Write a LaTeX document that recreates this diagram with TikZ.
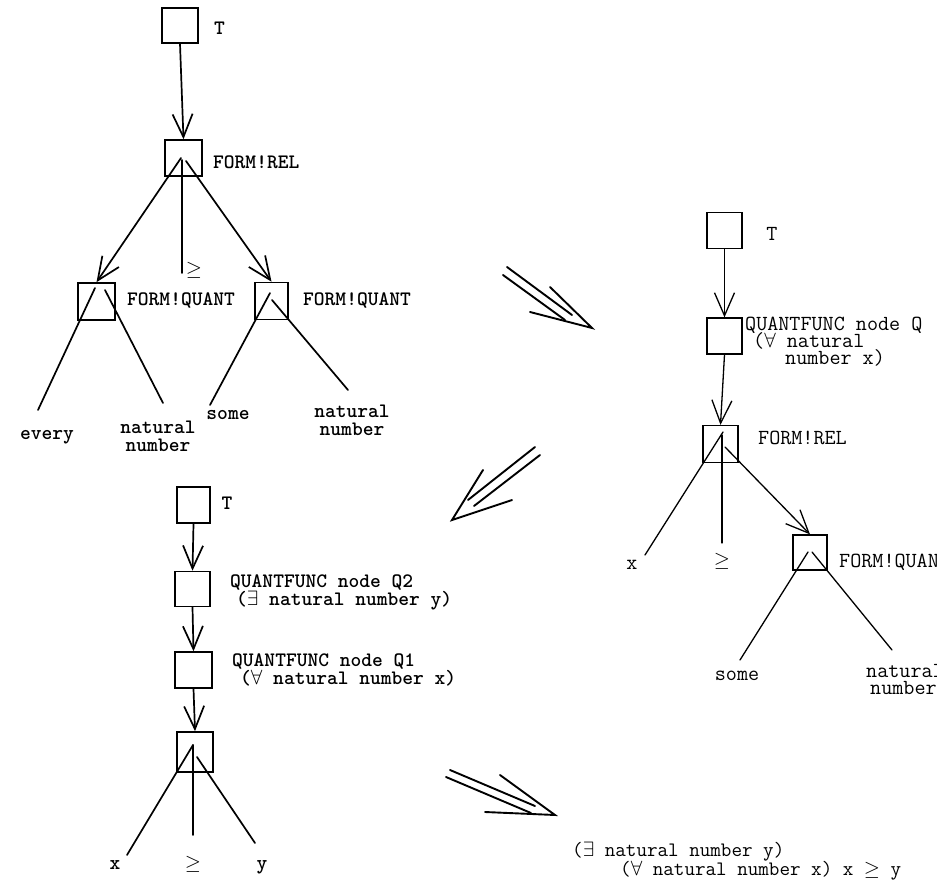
\documentclass[tikz,border=0pt]{standalone}
\usetikzlibrary{arrows.meta}
\begin{document}
\begin{tikzpicture}[x=1pt,y=-1pt,
  box/.style={draw,line width=1.6pt,inner sep=0pt,minimum width=35pt,minimum height=36pt},
  thinbox/.style={box,line width=1.3pt},
  txt/.style={font={\ttfamily\bfseries\fontsize{20.5}{18}\selectfont\lineskiplimit=-40pt},inner sep=0pt,anchor=base west},
  ctxt/.style={txt,anchor=base},
  rtxt/.style={txt,font={\ttfamily\fontsize{21.5}{17}\selectfont\lineskiplimit=-40pt}},
  crtxt/.style={rtxt,anchor=base},
  sym/.style={font=\fontsize{20.5}{20}\selectfont,inner sep=0pt,anchor=center},
  edge/.style={line width=1.7pt,line cap=round},
  thinedge/.style={line width=1.3pt,line cap=round},
  arr/.style={-{Straight Barb[length=23pt,width=20pt]}},
  bigarr/.style={line width=1.9pt,line cap=round}]
\useasboundingbox[fill=white] (0,0) rectangle (937,891);

% ---------------- top-left tree ----------------
\node[box,minimum width=36pt,minimum height=35pt] (t1) at (180,25.5) {};
\node[txt] (t1l) at (214,35) {T};
\node[box,minimum width=37pt] (r1) at (183.5,158) {};
\node[txt] (r1l) at (213,168) {FORM!REL};
\node[box,minimum width=37pt,minimum height=37pt] (ql) at (96.5,301.5) {};
\node[txt] (qll) at (127,305) {FORM!QUANT};
\node[box,minimum width=33pt,minimum height=37pt] (qr) at (271.5,301) {};
\node[txt] (qrl) at (303,305) {FORM!QUANT};
\node[sym] (ge1) at (194,270) {$\geq$};
\node[ctxt] (every) at (47,439) {every};
\node[txt,align=center,anchor=north] (nn1) at (158,420.5) {natural\\number};
\node[ctxt] (some1) at (228,419) {some};
\node[txt,align=center,anchor=north] (nn2) at (352,404.5) {natural\\number};

\coordinate (r1a) at (181,158);
\coordinate (r1b) at (186,161);
\coordinate (r1c) at (182,160);
\coordinate (ge1e) at (182,273);
\coordinate (qla) at (95,288);
\coordinate (qlb) at (105,290);
\coordinate (qlA) at (38,410);
\coordinate (qlB) at (163,403);
\coordinate (qra) at (270,293);
\coordinate (qrb) at (272,300);
\coordinate (qrA) at (210,405);
\coordinate (qrB) at (348,390);

\draw[edge,arr] (t1.south) -- (r1.north);
\draw[edge,arr] (r1a) -- (ql.north);
\draw[edge,arr] (r1b) -- (qr.north);
\draw[edge] (r1c) -- (ge1e);
\draw[edge] (qla) -- (qlA);
\draw[edge] (qlb) -- (qlB);
\draw[edge] (qra) -- (qrA);
\draw[edge] (qrb) -- (qrB);

% ---------------- right tree ----------------
\node[thinbox] (t2) at (724.5,230.5) {};
\node[crtxt] (t2l) at (772,240) {T};
\node[thinbox] (qf) at (724.5,336) {};
\node[rtxt,align=left,anchor=north west] (qfl) at (745,316.5)
  {QUANTFUNC node Q\\\hspace*{8pt}($\forall$ natural\\\hspace*{40pt}number x)};
\node[thinbox,minimum height=37pt] (rr) at (720.5,444) {};
\node[rtxt] (rrl) at (758,444) {FORM!REL};
\node[thinbox,minimum width=34pt,minimum height=35pt] (fq) at (810,552.5) {};
\node[rtxt] (fql) at (839,567) {FORM!QUANT};
\node[crtxt] (x2) at (632,569) {x};
\node[sym] (ge2) at (722,561) {$\geq$};
\node[crtxt] (some2) at (737,680) {some};
\node[rtxt,align=left,anchor=north west] (nn3) at (866,664.5) {natural\\\hspace*{4pt}number};

\coordinate (rra) at (723,432);
\coordinate (rrb) at (725,447);
\coordinate (rrc) at (722,435);
\coordinate (rrA) at (645,555);
\coordinate (rrC) at (722,543);
\coordinate (fqa) at (808,552);
\coordinate (fqb) at (812,552);
\coordinate (fqA) at (740,660);
\coordinate (fqB) at (892,650);

\draw[thinedge,arr] (t2.south) -- (qf.north);
\draw[thinedge,arr] (qf.south) -- (rr.north);
\draw[thinedge] (rra) -- (rrA);
\draw[thinedge] (rrc) -- (rrC);
\draw[thinedge,arr] (rrb) -- (fq.north);
\draw[thinedge] (fqa) -- (fqA);
\draw[thinedge] (fqb) -- (fqB);

% ---------------- lower-left tree ----------------
\node[box,minimum width=33pt] (t3) at (193.5,505) {};
\node[ctxt] (t3l) at (227,509) {T};
\node[box,minimum height=35pt] (q2) at (192.5,589) {};
\node[txt,align=left,anchor=north west] (q2l) at (230,574.5)
  {QUANTFUNC node Q2\\\hspace*{6pt}($\exists$ natural number y)};
\node[box,minimum width=37pt] (q1) at (193.5,670) {};
\node[txt,align=left,anchor=north west] (q1l) at (232,653.5)
  {QUANTFUNC node Q1\\\hspace*{8pt}($\forall$ natural number x)};
\node[box,minimum width=36pt,minimum height=40pt] (rl) at (195,752) {};
\node[ctxt] (x3) at (115,869) {x};
\node[sym] (ge3) at (193,864) {$\geq$};
\node[ctxt] (y3) at (262,869) {y};

\coordinate (rla) at (193,745);
\coordinate (rlb) at (197,757);
\coordinate (rlA) at (127,855);
\coordinate (rlC) at (193,835);
\coordinate (rlB) at (255,843);

\draw[edge,arr] (t3.south) -- (q2.north);
\draw[edge,arr] (q2.south) -- (q1.north);
\draw[edge,arr] (q1.south) -- (rl.north);
\draw[edge] (rla) -- (rlA);
\draw[edge] (rla) -- (rlC);
\draw[edge] (rlb) -- (rlB);

% ---------------- transformation arrows ----------------
\coordinate (a1s1) at (507,267); \coordinate (a1e1) at (572,315);
\coordinate (a1s2) at (503,275); \coordinate (a1e2) at (565,320);
\coordinate (a1h1) at (550,287); \coordinate (a1h2) at (530,312);
\coordinate (a1t) at (592,328);
\draw[bigarr] (a1s1) -- (a1e1);
\draw[bigarr] (a1s2) -- (a1e2);
\draw[bigarr] (a1h1) -- (a1t) -- (a1h2);

\coordinate (a2s1) at (535,447); \coordinate (a2e1) at (468,500);
\coordinate (a2s2) at (540,455); \coordinate (a2e2) at (474,506);
\coordinate (a2h1) at (483,470); \coordinate (a2h2) at (512,500);
\coordinate (a2t) at (452,520);
\draw[bigarr] (a2s1) -- (a2e1);
\draw[bigarr] (a2s2) -- (a2e2);
\draw[bigarr] (a2h1) -- (a2t) -- (a2h2);

\coordinate (a3s1) at (450,770); \coordinate (a3e1) at (535,806);
\coordinate (a3s2) at (446,777); \coordinate (a3e2) at (531,813);
\coordinate (a3h1) at (500,775); \coordinate (a3h2) at (485,812);
\coordinate (a3t) at (555,815);
\draw[bigarr] (a3s1) -- (a3e1);
\draw[bigarr] (a3s2) -- (a3e2);
\draw[bigarr] (a3h1) -- (a3t) -- (a3h2);

\node[rtxt,align=left,anchor=north west,font={\ttfamily\fontsize{20.5}{19}\selectfont\lineskiplimit=-40pt}] (res) at (572,841.5)
  {($\exists$ natural number y)\\\hspace*{48pt}($\forall$ natural number x) x $\geq$ y};
\end{tikzpicture}
\end{document}
